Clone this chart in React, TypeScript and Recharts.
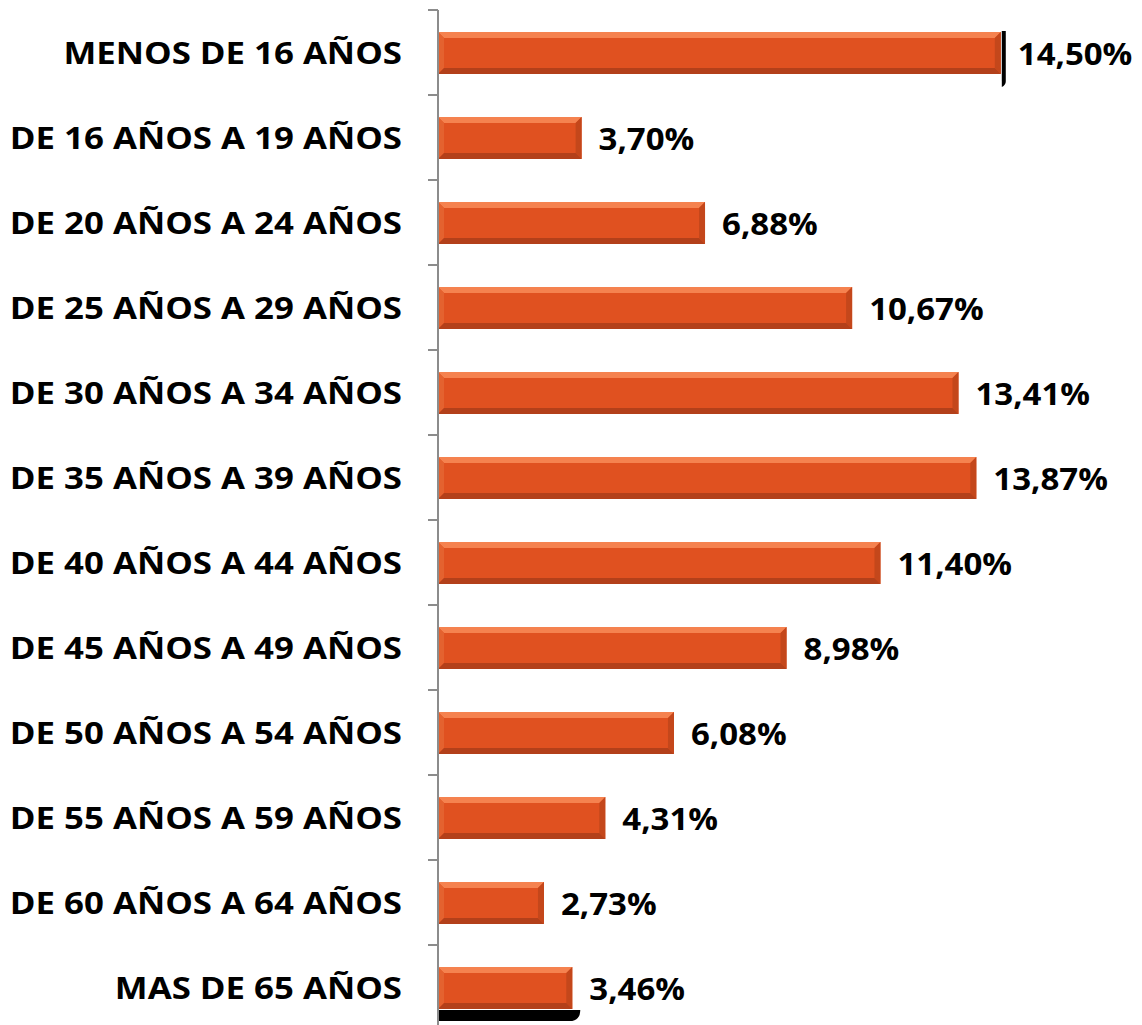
import { BarChart, Bar, XAxis, YAxis, LabelList } from "recharts"

const categories = [
  "MENOS DE 16 AÑOS",
  "DE 16 AÑOS A 19 AÑOS",
  "DE 20 AÑOS A 24 AÑOS",
  "DE 25 AÑOS A 29 AÑOS",
  "DE 30 AÑOS A 34 AÑOS",
  "DE 35 AÑOS A 39 AÑOS",
  "DE 40 AÑOS A 44 AÑOS",
  "DE 45 AÑOS A 49 AÑOS",
  "DE 50 AÑOS A 54 AÑOS",
  "DE 55 AÑOS A 59 AÑOS",
  "DE 60 AÑOS A 64 AÑOS",
  "MAS DE 65 AÑOS",
]
const shares = [14.5, 3.7, 6.88, 10.67, 13.41, 13.87, 11.4, 8.98, 6.08, 4.31, 2.73, 3.46]

const data = categories.map((name, i) => ({ name, value: shares[i] }))

const FONT = "'Open Sans', Lato, sans-serif"
const W = 1126
const H = 1022
const TOP = 2
const BAND = (H - TOP) / categories.length

const fmt = (v: number) => v.toFixed(2).replace(".", ",") + "%"

function BevelBar(props: any) {
  const { x, y, width, height, index } = props
  if (!width || width <= 0) return null
  const b = 6
  const last = index === categories.length - 1
  return (
    <g>
      {index === 0 && (
        <path
          d={`M${x + width + 1},${y - 1} h4 v${height + 8} q0,4 -4,6 z`}
          fill="#000"
        />
      )}
      {last && (
        <path
          d={`M${x},${y + height + 1} h${width + 8} q0,9 -8,11 h-${width} z`}
          fill="#000"
        />
      )}
      <rect x={x} y={y} width={width} height={height} fill="#E05120" />
      <polygon
        points={`${x},${y} ${x + width},${y} ${x + width - b},${y + b} ${x + b},${y + b}`}
        fill="#F5824F"
      />
      <polygon
        points={`${x},${y} ${x + b},${y + b} ${x + b},${y + height - b} ${x},${y + height}`}
        fill="#E4622F"
      />
      <polygon
        points={`${x + width},${y} ${x + width},${y + height} ${x + width - b},${y + height - b} ${x + width - b},${y + b}`}
        fill="#C4471B"
      />
      <polygon
        points={`${x},${y + height} ${x + width},${y + height} ${x + width - b},${y + height - b} ${x + b},${y + height - b}`}
        fill="#B3401A"
      />
    </g>
  )
}

function CatTick(props: any) {
  const { x, y, payload } = props
  const off = payload?.offset || BAND / 2
  return (
    <g>
      <line x1={x - 10} x2={x} y1={y - off} y2={y - off} stroke="#8c8c8c" strokeWidth={2} />
      <text
        transform={`translate(${x - 36},${y}) scale(1.16,1)`}
        x={0}
        y={0}
        textAnchor="end"
        dominantBaseline="central"
        fontFamily={FONT}
        fontWeight={700}
        fontSize={30}
        fill="#000"
      >
        {payload.value}
      </text>
    </g>
  )
}

function ValueLabel(props: any) {
  const { x, y, width, height, value } = props
  return (
    <text
      transform={`translate(${x + width + 17},${y + height / 2}) scale(1.1,1)`}
      x={0}
      y={0}
      textAnchor="start"
      dominantBaseline="central"
      fontFamily={FONT}
      fontWeight={700}
      fontSize={30}
      fill="#000"
    >
      {fmt(Number(value))}
    </text>
  )
}

export default function App() {
  return (
    <div style={{ width: W, height: H }}>
      <style>{`body{overflow:hidden}`}</style>
      <BarChart
        width={W}
        height={H}
        data={data}
        layout="vertical"
        margin={{ top: TOP, right: 75, bottom: 0, left: 0 }}
      >
        <XAxis type="number" domain={[0, 16]} hide />
        <YAxis
          type="category"
          dataKey="name"
          width={430}
          tickSize={0}
          tickMargin={0}
          tickLine={false}
          axisLine={{ stroke: "#8c8c8c", strokeWidth: 2 }}
          tick={<CatTick />}
          interval={0}
        />
        <Bar dataKey="value" barSize={42} shape={<BevelBar />} isAnimationActive={false}>
          <LabelList dataKey="value" content={<ValueLabel />} />
        </Bar>
      </BarChart>
    </div>
  )
}
